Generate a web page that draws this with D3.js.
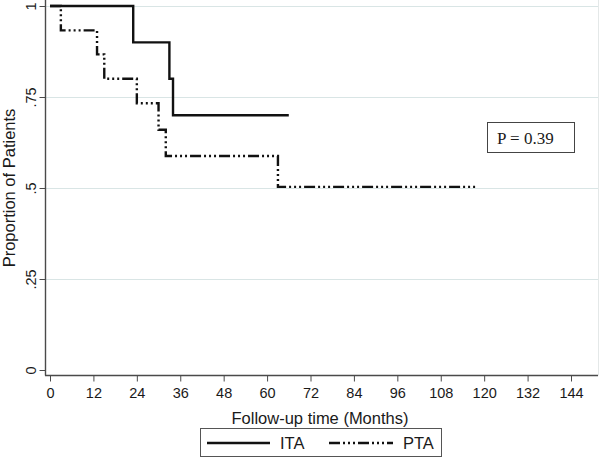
<!DOCTYPE html>
<html lang="en">
<head>
    <meta charset="utf-8">
    <title>Survival</title>
    <script src="https://d3js.org/d3.v7.min.js" charset="utf-8"></script>
    <style type="text/css">
        body { margin: 0; background: #fff; }
        text { font-family: "Liberation Sans", Arial, sans-serif; fill: #1a1a1a; }
        .axis text { font-family: "Liberation Sans", Arial, sans-serif; font-size: 14.5px; fill: #1a1a1a; }
        .grid { stroke: #d9e5e5; stroke-width: 1; }
        .axis path, .axis line { stroke: #4a4a4a; }
        .ita { fill: none; stroke: #111; stroke-width: 2.4; }
        .pta { fill: none; stroke: #111; stroke-width: 2.4; stroke-dasharray: 11 3 2 3 2 3 2 3; }
    </style>
</head>
<body>
    <script type="text/javascript">
    // data
    var itaTime = [0, 23, 33, 34, 66];
    var itaSurv = [1, 0.9, 0.8, 0.7, 0.7];
    var ptaTime = [0, 3, 13, 15, 24, 30, 32, 63, 117.5];
    var ptaSurv = [1, 0.933, 0.867, 0.8, 0.733, 0.66, 0.588, 0.503, 0.503];
    var xTicks = d3.range(0, 145, 12);
    var yTicks = [0, 0.25, 0.5, 0.75, 1];
    var yTickLabels = ["0", ".25", ".5", ".75", "1"];
    var seriesNames = ["ITA", "PTA"];
    var pText = "P = 0.39";

    var width = 600, height = 458;
    var left = 45, right = 598, bottom = 375.5;

    var svg = d3.select("body").append("svg")
        .attr("width", width)
        .attr("height", height);

    var x = d3.scaleLinear().domain([0, 144]).range([50, 571]);
    var y = d3.scaleLinear().domain([0, 1]).range([370, 6]);

    // grid lines
    svg.selectAll(".grid")
        .data(yTicks.filter(function (d) { return d > 0; }))
        .enter()
        .append("line")
        .attr("class", "grid")
        .attr("x1", left)
        .attr("x2", right)
        .attr("y1", function (d) { return Math.round(y(d)) + 0.5; })
        .attr("y2", function (d) { return Math.round(y(d)) + 0.5; });

    // faint right border
    svg.append("line")
        .attr("x1", right + 0.5).attr("x2", right + 0.5)
        .attr("y1", 0).attr("y2", bottom)
        .attr("stroke", "#e4e8e8");

    // x axis
    var xAxis = svg.append("g")
        .attr("class", "axis")
        .attr("transform", "translate(0," + bottom + ")")
        .call(d3.axisBottom(x).tickValues(xTicks).tickSize(6).tickPadding(6));
    xAxis.attr("font-size", null).attr("font-family", null);
    xAxis.select(".domain").remove();
    xAxis.append("line").attr("x1", left).attr("x2", right).attr("stroke", "#4a4a4a").attr("stroke-width", 1.4);

    // y axis
    var yAxis = svg.append("g")
        .attr("class", "axis")
        .attr("transform", "translate(" + (left + 0.5) + ",0)")
        .call(d3.axisLeft(y).tickValues(yTicks).tickSize(6)
            .tickFormat(function (d, i) { return yTickLabels[i]; }));
    yAxis.attr("font-size", null).attr("font-family", null);
    yAxis.select(".domain").remove();
    yAxis.append("line").attr("y1", 0).attr("y2", bottom).attr("stroke", "#4a4a4a").attr("stroke-width", 1.4);
    yAxis.selectAll(".tick text")
        .attr("transform", "rotate(-90)")
        .attr("x", 0)
        .attr("y", -10)
        .attr("dy", 0)
        .attr("text-anchor", "middle");

    // axis titles
    svg.append("text")
        .attr("x", 320)
        .attr("y", 424)
        .attr("text-anchor", "middle")
        .style("font-size", "16.5px")
        .text("Follow-up time (Months)");

    svg.append("text")
        .attr("transform", "translate(15,188) rotate(-90)")
        .attr("text-anchor", "middle")
        .style("font-size", "16.5px")
        .text("Proportion of Patients");

    // survival curves
    var line = d3.line()
        .curve(d3.curveStepAfter)
        .x(function (d) { return x(d[0]); })
        .y(function (d) { return y(d[1]); });

    svg.append("path")
        .attr("class", "pta")
        .attr("d", line(d3.zip(ptaTime, ptaSurv)));

    svg.append("path")
        .attr("class", "ita")
        .attr("d", line(d3.zip(itaTime, itaSurv)));

    // P value box
    svg.append("rect")
        .attr("x", 487.5).attr("y", 122.5)
        .attr("width", 87).attr("height", 30)
        .attr("fill", "#fff").attr("stroke", "#444");
    svg.append("text")
        .attr("x", 497)
        .attr("y", 144)
        .style("font-family", "'Liberation Serif', serif")
        .style("font-size", "17px")
        .text(pText);

    // legend
    var legend = svg.append("g");
    legend.append("rect")
        .attr("x", 200.5).attr("y", 428.5)
        .attr("width", 241).attr("height", 28)
        .attr("fill", "#fff").attr("stroke", "#555");
    var legendItems = [
        { name: seriesNames[0], cls: "ita", x1: 207, x2: 270, tx: 280 },
        { name: seriesNames[1], cls: "pta", x1: 329, x2: 393, tx: 403 }
    ];
    legendItems.forEach(function (d) {
        legend.append("line")
            .attr("class", d.cls)
            .attr("x1", d.x1).attr("x2", d.x2)
            .attr("y1", 443).attr("y2", 443);
        legend.append("text")
            .attr("x", d.tx)
            .attr("y", 449)
            .style("font-size", "16.5px")
            .text(d.name);
    });
    </script>
</body>
</html>
